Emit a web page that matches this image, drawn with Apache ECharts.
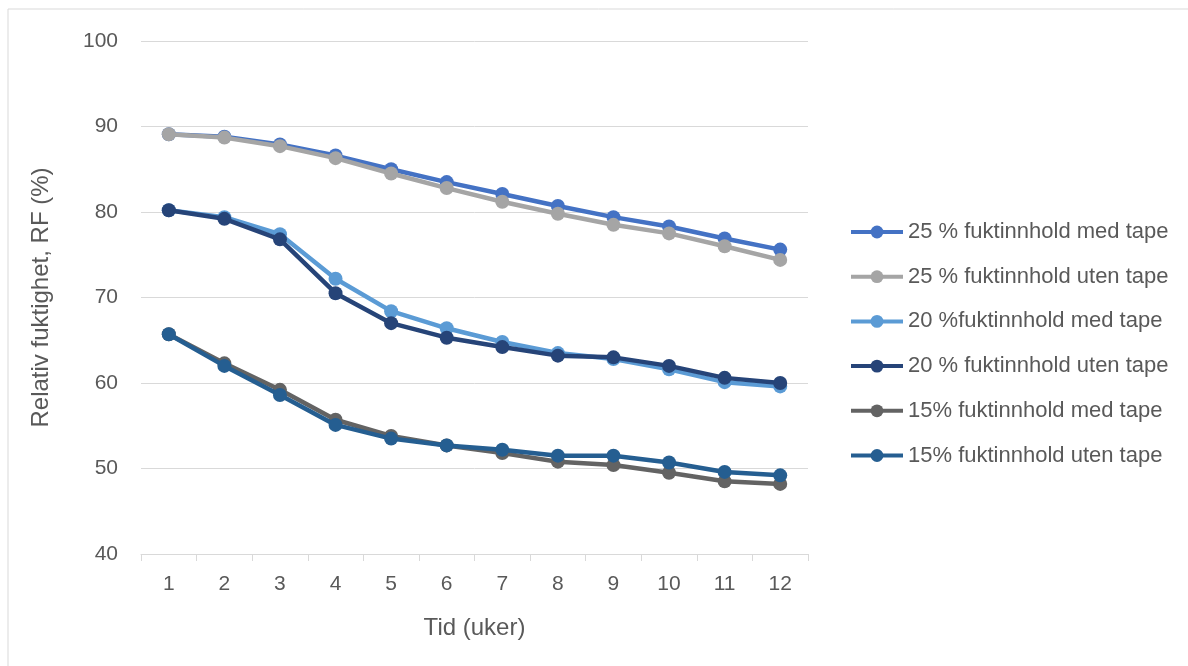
<!DOCTYPE html>
<html>
<head>
<meta charset="utf-8">
<script src="https://cdn.jsdelivr.net/npm/echarts@6/dist/echarts.min.js"></script>
<style>
  html, body { margin: 0; padding: 0; background: #fff; }
  #chart { width: 1188px; height: 666px; }
</style>
</head>
<body>
<div id="chart"></div>
<script>
var weeks = ['1', '2', '3', '4', '5', '6', '7', '8', '9', '10', '11', '12'];

var names = [
  '25 % fuktinnhold med tape',
  '25 % fuktinnhold uten tape',
  '20 %fuktinnhold med tape',
  '20 % fuktinnhold uten tape',
  '15% fuktinnhold med tape',
  '15% fuktinnhold uten tape'
];

var rf25Med = [89.1, 88.8, 87.9, 86.6, 85.0, 83.5, 82.1, 80.7, 79.4, 78.3, 76.9, 75.6];
var rf25Uten = [89.1, 88.7, 87.7, 86.3, 84.5, 82.8, 81.2, 79.8, 78.5, 77.5, 76.0, 74.4];
var rf20Med = [80.2, 79.4, 77.4, 72.2, 68.4, 66.4, 64.8, 63.5, 62.8, 61.6, 60.1, 59.6];
var rf20Uten = [80.2, 79.2, 76.8, 70.5, 67.0, 65.3, 64.2, 63.2, 63.0, 62.0, 60.6, 60.0];
var rf15Med = [65.7, 62.3, 59.2, 55.7, 53.8, 52.7, 51.8, 50.8, 50.4, 49.5, 48.5, 48.2];
var rf15Uten = [65.7, 62.0, 58.6, 55.1, 53.5, 52.7, 52.2, 51.5, 51.5, 50.7, 49.6, 49.2];

var colors = ['#4472C4', '#A5A5A5', '#5B9BD5', '#264478', '#636363', '#255E91'];
var allData = [rf25Med, rf25Uten, rf20Med, rf20Uten, rf15Med, rf15Uten];

var font = 'Liberation Sans, Arial, sans-serif';
var textColor = '#595959';

var series = [];
for (var i = 0; i < names.length; i++) {
  series.push({
    name: names[i],
    type: 'line',
    data: allData[i],
    symbol: 'circle',
    symbolSize: 14,
    lineStyle: { width: 4.5, color: colors[i] },
    itemStyle: { color: colors[i] },
    z: 2 + i
  });
}

var option = {
  animation: false,
  textStyle: { fontFamily: font },
  graphic: [{
    type: 'rect',
    shape: { x: 8, y: 9, width: 1200, height: 700 },
    style: { fill: 'none', stroke: '#D9D9D9', lineWidth: 1 },
    silent: true
  }],
  legend: {
    orient: 'vertical',
    left: 844,
    top: 216,
    itemWidth: 52,
    itemHeight: 16,
    itemGap: 22.7,
    lineStyle: { width: 4 },
    textStyle: { color: textColor, fontSize: 22, lineHeight: 16, fontFamily: font },
    data: names
  },
  grid: {
    left: 141,
    right: 380,
    top: 41,
    bottom: 112,
    containLabel: false
  },
  xAxis: {
    type: 'category',
    data: weeks,
    boundaryGap: true,
    name: 'Tid (uker)',
    nameLocation: 'middle',
    nameGap: 62,
    nameTextStyle: { color: textColor, fontSize: 24, fontFamily: font },
    axisLine: { lineStyle: { color: '#D9D9D9', width: 1 } },
    axisTick: { show: true, length: 7, lineStyle: { color: '#D9D9D9' } },
    axisLabel: { color: textColor, fontSize: 21, margin: 20, fontFamily: font }
  },
  yAxis: {
    type: 'value',
    min: 40,
    max: 100,
    interval: 10,
    name: 'Relativ fuktighet, RF (%)',
    nameLocation: 'middle',
    nameGap: 88,
    nameTextStyle: { color: textColor, fontSize: 24, fontFamily: font },
    axisLine: { show: false },
    axisTick: { show: false },
    axisLabel: { color: textColor, fontSize: 21, margin: 23, fontFamily: font },
    splitLine: { lineStyle: { color: '#D9D9D9', width: 1 } }
  },
  series: series
};

var chart = echarts.init(document.getElementById('chart'));
chart.setOption(option);
</script>
</body>
</html>
